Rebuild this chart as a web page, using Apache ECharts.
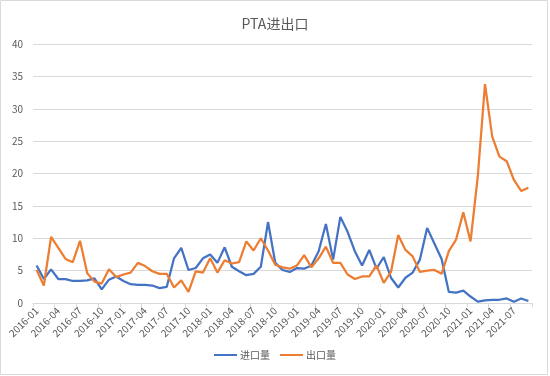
<!DOCTYPE html>
<html>
<head>
<meta charset="utf-8">
<script src="https://cdn.jsdelivr.net/npm/echarts@6/dist/echarts.min.js"></script>
<style>
  html, body { margin: 0; padding: 0; background: #fff; }
  #chart { width: 550px; height: 376px; }
</style>
</head>
<body>
<div id="chart"></div>
<script>
// months 2016-01 .. 2021-09
var months = [];
for (var y = 2016; y <= 2021; y++) {
    for (var m = 1; m <= 12; m++) {
        if (y === 2021 && m > 9) break;
        months.push(y + '-' + (m < 10 ? '0' + m : m));
    }
}

var importQty = [
    5.8, 3.7, 5.2, 3.7, 3.7, 3.4, 3.4, 3.5, 3.8, 2.1, 3.6, 4.1,
    3.4, 2.9, 2.8, 2.8, 2.7, 2.3, 2.5, 6.9, 8.5, 5.1, 5.4, 6.9,
    7.5, 6.2, 8.6, 5.6, 4.9, 4.3, 4.5, 5.6, 12.5, 6.2, 5.1, 4.8,
    5.4, 5.3, 5.8, 8.0, 12.2, 6.7, 13.3, 11.0, 8.0, 5.8, 8.2, 5.3,
    7.1, 3.9, 2.4, 3.9, 4.7, 6.7, 11.6, 9.2, 6.8, 1.7, 1.6, 1.9,
    1.0, 0.2, 0.4, 0.5, 0.5, 0.7, 0.2, 0.7, 0.3
];

var exportQty = [
    5.1, 2.7, 10.2, 8.5, 6.8, 6.3, 9.6, 4.6, 3.3, 3.0, 5.2, 4.0,
    4.4, 4.7, 6.2, 5.7, 4.9, 4.5, 4.5, 2.4, 3.5, 1.7, 4.9, 4.7,
    6.9, 4.7, 6.6, 6.1, 6.3, 9.5, 8.1, 10.0, 8.1, 5.9, 5.5, 5.3,
    5.8, 7.4, 5.5, 6.9, 8.7, 6.2, 6.2, 4.4, 3.7, 4.1, 4.1, 5.8,
    3.1, 4.8, 10.5, 8.2, 7.2, 4.8, 5.0, 5.1, 4.5, 8.0, 9.8, 14.0,
    9.5, 19.5, 33.8, 25.7, 22.6, 21.9, 19.0, 17.3, 17.8
];

var textColor = '#595959';
var lineGray = '#d9d9d9';
var fontFam = '"Noto Sans CJK SC", "Noto Sans", sans-serif';

var chart = echarts.init(document.getElementById('chart'));
chart.setOption({
    animation: false,
    graphic: [{
        type: 'rect',
        shape: { x: 0.5, y: 0.5, width: 547, height: 374 },
        style: { fill: 'none', stroke: lineGray, lineWidth: 1 }
    }],
    title: {
        text: 'PTA进出口',
        left: 'center',
        top: 12,
        textStyle: { color: textColor, fontSize: 14, fontWeight: 'normal', fontFamily: fontFam }
    },
    legend: {
        bottom: 11,
        left: 'center',
        icon: 'rect',
        itemWidth: 23,
        itemHeight: 2,
        itemGap: 10,
        textStyle: { color: textColor, fontSize: 10, fontFamily: fontFam, padding: [0, 0, 0, -2] },
        data: ['进口量', '出口量']
    },
    grid: { left: 33, right: 18, top: 44, bottom: 73 },
    xAxis: {
        type: 'category',
        data: months,
        boundaryGap: true,
        axisLine: { lineStyle: { color: lineGray } },
        axisTick: { show: true, interval: 2, length: 4, lineStyle: { color: lineGray } },
        axisLabel: {
            interval: 2,
            rotate: 45,
            color: textColor,
            fontSize: 10,
            margin: 6,
            fontFamily: fontFam
        }
    },
    yAxis: {
        type: 'value',
        min: 0,
        max: 40,
        interval: 5,
        axisLine: { show: false },
        axisTick: { show: false },
        axisLabel: { color: textColor, fontSize: 10, margin: 10, fontFamily: fontFam },
        splitLine: { lineStyle: { color: lineGray } }
    },
    series: [
        {
            name: '进口量',
            type: 'line',
            data: importQty,
            showSymbol: false,
            symbol: 'none',
            lineStyle: { color: '#4472C4', width: 2.25 },
            itemStyle: { color: '#4472C4' }
        },
        {
            name: '出口量',
            type: 'line',
            data: exportQty,
            showSymbol: false,
            symbol: 'none',
            lineStyle: { color: '#ED7D31', width: 2.25 },
            itemStyle: { color: '#ED7D31' }
        }
    ]
});
</script>
</body>
</html>
